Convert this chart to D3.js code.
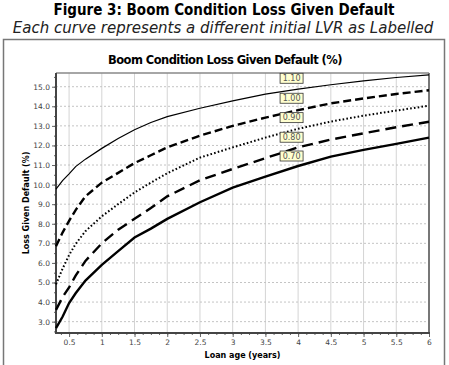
<!DOCTYPE html>
<html>
<head>
<meta charset="utf-8">
<script src="https://cdn.jsdelivr.net/npm/d3@7"></script>
<style>
  body { margin: 0; background: #fff; }
  svg { display: block; font-family: "DejaVu Sans", sans-serif; }
</style>
</head>
<body>
<svg id="chart"></svg>
<script>
// loan age (years) and LGD (%) for each initial LVR
var ages   = [0.3, 0.4, 0.5, 0.6, 0.75, 1.0, 1.25, 1.5, 1.75, 2.0, 2.5, 3.0, 3.5, 4.0, 4.5, 5.0, 5.5, 6.0];
var lgd110 = [9.77, 10.2, 10.55, 10.92, 11.3, 11.85, 12.35, 12.8, 13.17, 13.47, 13.9, 14.28, 14.62, 14.88, 15.1, 15.3, 15.47, 15.6];
var lgd100 = [6.85, 7.55, 8.15, 8.7, 9.4, 10.1, 10.6, 11.1, 11.5, 11.9, 12.5, 13.0, 13.42, 13.8, 14.15, 14.4, 14.63, 14.82];
var lgd090 = [4.9, 5.7, 6.4, 6.97, 7.62, 8.38, 9.0, 9.6, 10.1, 10.58, 11.38, 11.9, 12.4, 12.85, 13.22, 13.52, 13.78, 14.03];
var lgd080 = [3.6, 4.25, 4.75, 5.35, 6.1, 7.0, 7.7, 8.25, 8.8, 9.4, 10.22, 10.8, 11.35, 11.9, 12.3, 12.62, 12.93, 13.21];
var lgd070 = [2.67, 3.25, 3.95, 4.45, 5.1, 5.9, 6.6, 7.3, 7.75, 8.25, 9.1, 9.85, 10.41, 10.95, 11.43, 11.77, 12.08, 12.4];

var lvrLabels = ["1.10", "1.00", "0.90", "0.80", "0.70"];
var labelAge = 3.9;
var labelLgd = [15.43, 14.41, 13.42, 12.42, 11.46];

var xTicks = [0.5, 1, 1.5, 2, 2.5, 3, 3.5, 4, 4.5, 5, 5.5, 6];
var yTicks = [3, 4, 5, 6, 7, 8, 9, 10, 11, 12, 13, 14, 15];

var width = 449, height = 365;
var pLeft = 56, pRight = 429, pTop = 73, pBottom = 333;

var svg = d3.select("#chart")
    .attr("width", width)
    .attr("height", height);

var x = d3.scaleLinear().domain([0.3, 6]).range([pLeft, pRight]);
var y = d3.scaleLinear().domain([2.42, 15.7]).range([pBottom, pTop]);

// headings
svg.append("text")
  .attr("x", 224).attr("y", 15)
  .attr("text-anchor", "middle")
  .style("font-family", "'DejaVu Sans Condensed', 'DejaVu Sans'")
  .style("font-stretch", "condensed")
  .style("font-weight", "bold")
  .style("font-size", "15px")
  .text("Figure 3: Boom Condition Loss Given Default");

svg.append("text")
  .attr("x", 223).attr("y", 33)
  .attr("text-anchor", "middle")
  .style("font-style", "italic")
  .style("font-size", "15px")
  .attr("fill", "#222")
  .text("Each curve represents a different initial LVR as Labelled");

// outer frame
svg.append("rect")
  .attr("x", 3.5).attr("y", 39.5)
  .attr("width", 441).attr("height", 340)
  .attr("fill", "none")
  .attr("stroke", "#777")
  .attr("stroke-width", 1.5);

svg.append("text")
  .attr("x", 225).attr("y", 64)
  .attr("text-anchor", "middle")
  .style("font-weight", "bold")
  .style("font-size", "11.5px")
  .style("letter-spacing", "-0.55px")
  .text("Boom Condition Loss Given Default (%)");

// grid
svg.append("g")
  .selectAll("line")
  .data(xTicks)
  .enter()
  .append("line")
  .attr("x1", d => x(d)).attr("x2", d => x(d))
  .attr("y1", pTop).attr("y2", pBottom)
  .attr("stroke", "#d4d4d4")
  .attr("stroke-width", 1);

svg.append("g")
  .selectAll("line")
  .data(yTicks)
  .enter()
  .append("line")
  .attr("x1", pLeft).attr("x2", pRight)
  .attr("y1", d => y(d)).attr("y2", d => y(d))
  .attr("stroke", "#c4c4c4")
  .attr("stroke-dasharray", "2,2")
  .attr("stroke-width", 1);

// axes
var xAxis = svg.append("g")
  .attr("transform", "translate(0," + pBottom + ")")
  .call(d3.axisBottom(x).tickValues(xTicks).tickFormat(d3.format("")).tickSize(4).tickPadding(3));
var xMinor = svg.append("g")
  .attr("transform", "translate(0," + pBottom + ")")
  .call(d3.axisBottom(x).tickValues(d3.range(0.375, 6.01, 0.125)).tickFormat("").tickSize(2));
var yAxis = svg.append("g")
  .attr("transform", "translate(" + pLeft + ",0)")
  .call(d3.axisLeft(y).tickValues(yTicks).tickFormat(d3.format(".1f")).tickSize(4).tickPadding(2));
var yMinor = svg.append("g")
  .attr("transform", "translate(" + pLeft + ",0)")
  .call(d3.axisLeft(y).tickValues(d3.range(2.5, 15.6, 0.5)).tickFormat("").tickSize(2));

[xAxis, xMinor, yAxis, yMinor].forEach(g => {
  g.select(".domain").remove();
  g.selectAll("line").attr("stroke", "#666");
  g.selectAll("text")
    .style("font-family", "'DejaVu Sans'")
    .style("font-size", "7.5px")
    .attr("fill", "#444");
});

// plot border
svg.append("line").attr("x1", pLeft).attr("x2", pRight).attr("y1", pTop).attr("y2", pTop)
  .attr("stroke", "#888").attr("stroke-width", 1.5);
svg.append("line").attr("x1", pRight).attr("x2", pRight).attr("y1", pTop).attr("y2", pBottom)
  .attr("stroke", "#777").attr("stroke-width", 2);
svg.append("line").attr("x1", pLeft).attr("x2", pLeft).attr("y1", pTop).attr("y2", pBottom + 1)
  .attr("stroke", "#444").attr("stroke-width", 2);
svg.append("line").attr("x1", pLeft - 1).attr("x2", pRight + 1).attr("y1", pBottom).attr("y2", pBottom)
  .attr("stroke", "#444").attr("stroke-width", 2);

// axis titles
svg.append("text")
  .attr("x", (pLeft + pRight) / 2).attr("y", 358)
  .attr("text-anchor", "middle")
  .style("font-weight", "bold")
  .style("font-size", "8px")
  .text("Loan age (years)");

svg.append("text")
  .attr("transform", "translate(29," + (pTop + pBottom) / 2 + ") rotate(-90)")
  .attr("text-anchor", "middle")
  .style("font-weight", "bold")
  .style("font-size", "8px")
  .text("Loss Given Default (%)");

// curves
var series = [
  { values: lgd110, width: 1.2, dash: null },
  { values: lgd100, width: 2.4, dash: "8,4" },
  { values: lgd090, width: 2, dash: "1.6,2.2" },
  { values: lgd080, width: 2.4, dash: "11,6" },
  { values: lgd070, width: 2.4, dash: null }
];

var line = d3.line()
  .x((d, i) => x(ages[i]))
  .y(d => y(d));

svg.append("g")
  .selectAll("path")
  .data(series)
  .enter()
  .append("path")
  .attr("d", d => line(d.values))
  .attr("fill", "none")
  .attr("stroke", "#000")
  .attr("stroke-width", d => d.width)
  .attr("stroke-dasharray", d => d.dash);

// curve labels
var tags = svg.append("g")
  .selectAll("g")
  .data(lvrLabels)
  .enter()
  .append("g")
  .attr("transform", (d, i) => "translate(" + x(labelAge) + "," + y(labelLgd[i]) + ")");

tags.append("rect")
  .attr("x", -11.5).attr("y", -5)
  .attr("width", 23).attr("height", 10)
  .attr("fill", "#ffffd0")
  .attr("stroke", "#333")
  .attr("stroke-width", 0.8);

tags.append("text")
  .attr("text-anchor", "middle")
  .attr("dy", "0.35em")
  .style("font-size", "8px")
  .attr("fill", "#555")
  .text(d => d);
</script>
</body>
</html>
